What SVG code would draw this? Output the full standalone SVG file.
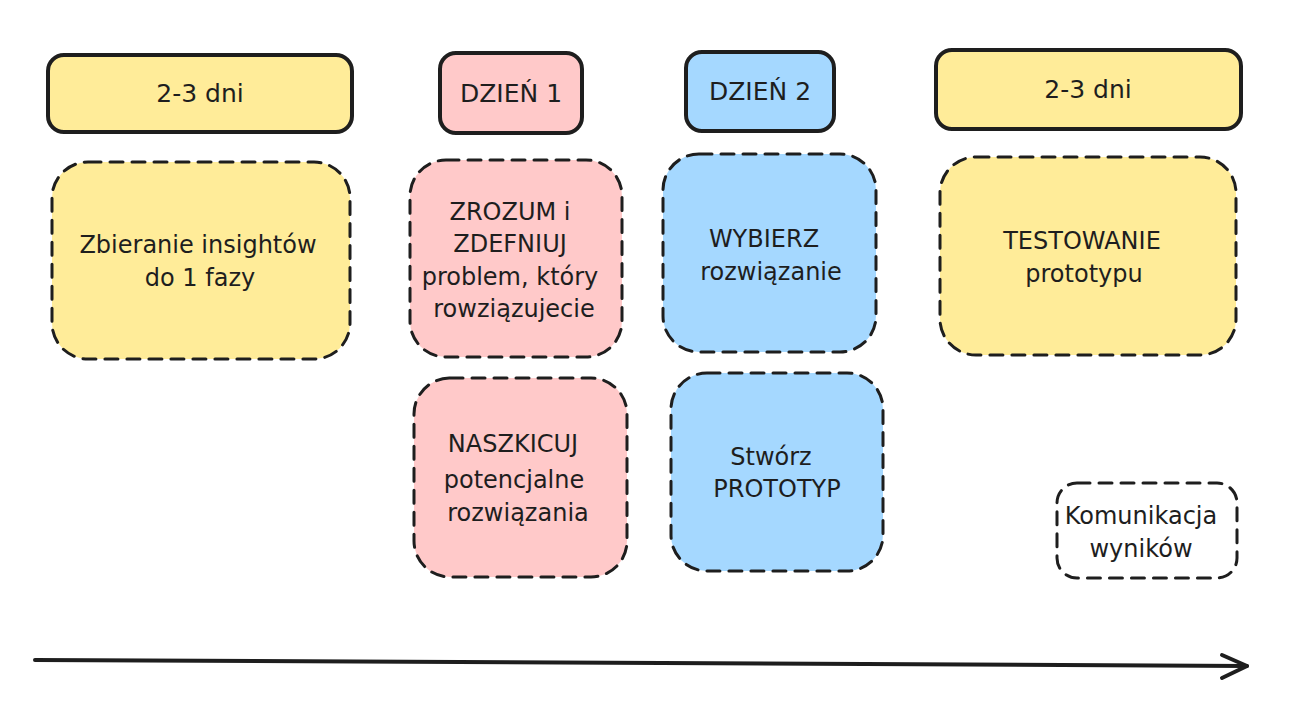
<svg xmlns="http://www.w3.org/2000/svg" width="1292" height="710" viewBox="0 0 1292 710">
<defs>
<style>
.hdr{stroke:#1e1e1e;stroke-width:4;}
.box{stroke:#1e1e1e;stroke-width:3;stroke-dasharray:13 9;stroke-linecap:round;}
.y{fill:#ffec99;}
.p{fill:#ffc9c9;}
.b{fill:#a5d8ff;}
text{font-family:"DejaVu Sans","Noto Sans",sans-serif;font-size:24px;fill:#1e1e1e;text-anchor:middle;}
.h{font-size:25px;}
.conn{stroke:#1e1e1e;stroke-width:4;fill:none;stroke-linecap:round;stroke-linejoin:round;}
</style>
</defs>
<rect width="1292" height="710" fill="#ffffff"/>
<g id="hdr1"><rect class="hdr y" x="48" y="55" width="304" height="77" rx="16"/><text class="h" x="200" y="102">2-3 dni</text></g>
<g id="hdr2"><rect class="hdr p" x="440" y="53" width="142" height="80" rx="16"/><text class="h" x="511" y="102">DZIEŃ 1</text></g>
<g id="hdr3"><rect class="hdr b" x="686" y="52" width="148" height="79" rx="16"/><text class="h" x="760" y="100">DZIEŃ 2</text></g>
<g id="hdr4"><rect class="hdr y" x="936" y="50" width="305" height="79" rx="16"/><text class="h" x="1088" y="98">2-3 dni</text></g>
<g id="n1"><rect class="box y" x="52" y="162" width="298" height="197" rx="36"/><text x="198" y="253">Zbieranie insightów</text><text x="200" y="286">do 1 fazy</text></g>
<g id="n2"><rect class="box p" x="410" y="160" width="212" height="197" rx="36"/><text x="510" y="220">ZROZUM i</text><text x="510" y="252">ZDEFNIUJ</text><text x="510" y="285">problem, który</text><text x="514" y="317">rowziązujecie</text></g>
<g id="n3"><rect class="box b" x="663" y="154" width="213" height="198" rx="36"/><text x="764" y="247">WYBIERZ</text><text x="771" y="280">rozwiązanie</text></g>
<g id="n4"><rect class="box y" x="940" y="157" width="296" height="198" rx="36"/><text x="1082" y="249">TESTOWANIE</text><text x="1084" y="282">prototypu</text></g>
<g id="n5"><rect class="box p" x="414" y="378" width="213" height="199" rx="36"/><text x="513" y="452">NASZKICUJ</text><text x="514" y="488">potencjalne</text><text x="518" y="521">rozwiązania</text></g>
<g id="n6"><rect class="box b" x="671" y="373" width="212" height="198" rx="36"/><text x="771" y="465">Stwórz</text><text x="777" y="497">PROTOTYP</text></g>
<g id="n7"><rect class="box" fill="none" x="1057" y="483" width="180" height="95" rx="20"/><text x="1141" y="524">Komunikacja</text><text x="1141" y="557">wyników</text></g>
<g id="connectors"><path class="conn" d="M35 660 L1247 666"/><path class="conn" d="M1222 655 L1247 666 L1222 678"/></g>
</svg>
